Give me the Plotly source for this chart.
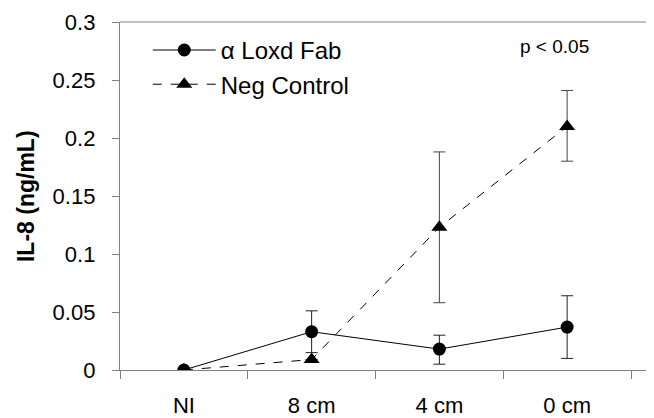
import plotly.graph_objects as go

categories = ["NI", "8 cm", "4 cm", "0 cm"]

fab_values = [0.0, 0.033, 0.018, 0.037]
fab_err_plus = [0.0, 0.018, 0.012, 0.027]
fab_err_minus = [0.0, 0.018, 0.013, 0.027]

neg_values = [0.0, 0.009, 0.123, 0.210]
neg_err_plus = [0.0, 0.0, 0.065, 0.031]
neg_err_minus = [0.0, 0.0, 0.065, 0.030]

y_ticks = [0, 0.05, 0.1, 0.15, 0.2, 0.25, 0.3]
y_tick_labels = ["0", "0.05", "0.1", "0.15", "0.2", "0.25", "0.3"]
y_title = "IL-8 (ng/mL)"

FONT = "Liberation Sans, Arial, sans-serif"
AXIS = "#808080"
PAD = "\u00a0\u00a0"

fig = go.Figure()

fig.add_trace(go.Scatter(
    x=categories, y=neg_values, name="Neg Control", legendgroup="b", legendrank=2,
    mode="lines+markers",
    line=dict(color="black", width=1, dash="dash"),
    marker=dict(symbol="triangle-up", size=14, color="black"),
    error_y=dict(type="data", symmetric=False, array=neg_err_plus,
                 arrayminus=neg_err_minus, color="#444444", thickness=1, width=6),
))

fig.add_trace(go.Scatter(
    x=categories, y=fab_values, name="\u03b1 Loxd Fab", legendgroup="a", legendrank=1,
    mode="lines+markers",
    line=dict(color="black", width=1),
    marker=dict(symbol="circle", size=13, color="black"),
    error_y=dict(type="data", symmetric=False, array=fab_err_plus,
                 arrayminus=fab_err_minus, color="#222222", thickness=1, width=6),
))

fig.add_shape(type="line", xref="paper", yref="paper", x0=0, x1=1, y0=1, y1=1,
              line=dict(color=AXIS, width=1))

fig.add_annotation(text="p < 0.05", xref="paper", yref="paper", x=0.813, y=0.931,
                   xanchor="center", yanchor="middle",
                   showarrow=False, font=dict(family=FONT, size=19, color="black"))

fig.add_annotation(text="<b>" + y_title + "</b>", xref="paper", yref="paper",
                   x=-0.176, y=0.5, xanchor="center", yanchor="middle",
                   textangle=-90, showarrow=False,
                   font=dict(family=FONT, size=23, color="black"))

# page body has an 8px margin, so the figure is sized to fill the 654x418 window
fig.update_layout(
    width=646, height=410,
    margin=dict(l=112, r=0, t=14, b=46),
    paper_bgcolor="white", plot_bgcolor="white",
    font=dict(family=FONT, color="black"),
    showlegend=True,
    legend=dict(x=0.052, y=0.983, xanchor="left", yanchor="top",
                traceorder="grouped", tracegroupgap=0, itemwidth=63,
                font=dict(family=FONT, size=24, color="black"),
                bgcolor="rgba(0,0,0,0)"),
    xaxis=dict(
        type="category", categoryorder="array", categoryarray=categories,
        range=[-0.5, 3.68], showgrid=False, zeroline=False,
        showline=True, linecolor=AXIS, linewidth=1,
        ticks="outside", ticklen=8, tickcolor=AXIS, tickson="boundaries",
        tickfont=dict(family=FONT, size=22, color="black"),
        ticklabelstandoff=16,
    ),
    yaxis=dict(
        range=[0, 0.3], tickvals=y_ticks,
        ticktext=[t + PAD for t in y_tick_labels],
        showgrid=False, zeroline=False,
        showline=True, linecolor=AXIS, linewidth=1,
        ticks="outside", ticklen=7, tickcolor=AXIS,
        tickfont=dict(family=FONT, size=22, color="black"),
    ),
)

fig.write_html("out.html")
